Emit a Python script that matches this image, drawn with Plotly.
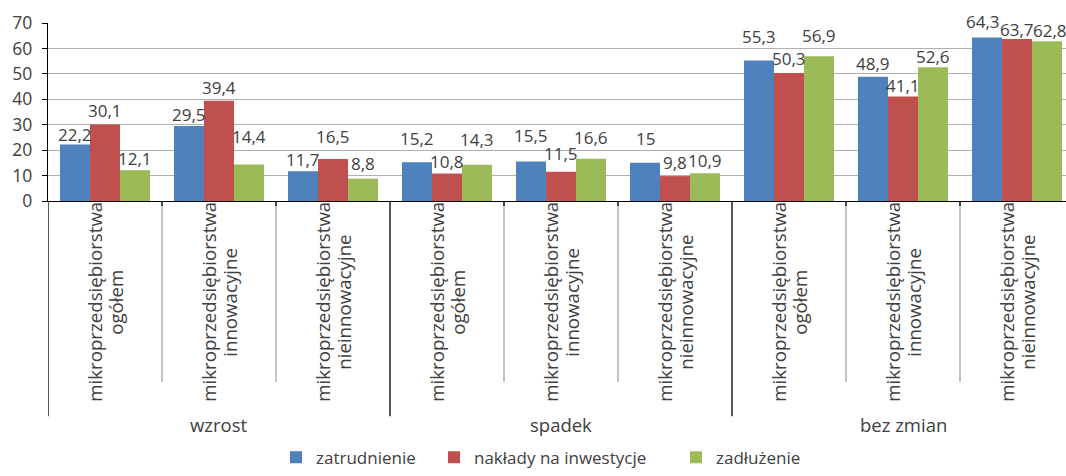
import plotly.graph_objects as go

# --- data -------------------------------------------------------------
groups = ["wzrost", "spadek", "bez zmian"]
sub_head = "mikroprzedsiębiorstwa"
sub_kinds = ["ogółem", "innowacyjne", "nieinnowacyjne"]

series_names = ["zatrudnienie", "nakłady na inwestycje", "zadłużenie"]
zatrudnienie = [22.2, 29.5, 11.7, 15.2, 15.5, 15, 55.3, 48.9, 64.3]
naklady = [30.1, 39.4, 16.5, 10.8, 11.5, 9.8, 50.3, 41.1, 63.7]
zadluzenie = [12.1, 14.4, 8.8, 14.3, 16.6, 10.9, 56.9, 52.6, 62.8]

y_ticks = [0, 10, 20, 30, 40, 50, 60, 70]

# --- styling ----------------------------------------------------------
colors = ["#4F81BD", "#C0504D", "#9BBB59"]
# extra lift (px) of individual value labels above their bars
label_lift = [
    [1, 2, 2, 14, 17, 15, 14, 3.5, 6],
    [4.5, 4, 13, 3, 9, 3.7, 5.5, 1, 0],
    [2.7, 18.5, 6, 16, 12, 3, 11, 1.3, 1.6],
]
# horizontal nudges (px) for crowded value labels: (series, category) -> px
label_nudge = {(0, 8): -4, (2, 8): 3}
FONT = "Open Sans"
TXT = "#404040"

W, H = 1066, 476
LEFT, TOP, BASE = 48, 23, 204          # plot left, plot top, x-axis line (px)
GROUP_PX = 114                          # width of one category slot (px)
PLOT_H = BASE - TOP
BARGAP = 24 / GROUP_PX


def py(px):
    """Convert a pixel row to paper y."""
    return (BASE - px) / PLOT_H


def px_x(px):
    return (px - LEFT) / (W - LEFT)


def fmt(v):
    return f"{v:g}".replace(".", ",")


n_cat = len(groups) * len(sub_kinds)
xs = list(range(n_cat))
series = [zatrudnienie, naklady, zadluzenie]

fig = go.Figure()
legend_ids = ["legend", "legend2", "legend3"]
for name, vals, col, leg in zip(series_names, series, colors, legend_ids):
    fig.add_trace(go.Bar(
        x=xs, y=vals, name=name, marker=dict(color=col, line=dict(width=0)),
        legend=leg,
    ))

annotations = []
bar_w = (1 - BARGAP) / len(series)
for j, vals in enumerate(series):
    off = (j - 1) * bar_w
    for i, v in enumerate(vals):
        annotations.append(dict(
            x=i + off, y=v, xref="x", yref="y", text=fmt(v), showarrow=False,
            xanchor="center", yanchor="bottom", yshift=label_lift[j][i] - 4,
            xshift=label_nudge.get((j, i), 0),
            font=dict(family=FONT, size=17, color=TXT),
        ))

# rotated category labels (two lines each)
for g in range(len(groups)):
    for s, kind in enumerate(sub_kinds):
        i = g * len(sub_kinds) + s
        for line, shift in ((sub_head, -10.5), (kind, 10.5)):
            annotations.append(dict(
                x=i, y=py(307), xref="x", yref="paper", text=line,
                showarrow=False, textangle=-90, xanchor="center",
                yanchor="middle", xshift=shift,
                font=dict(family=FONT, size=18.7, color=TXT),
            ))
    annotations.append(dict(
        x=g * len(sub_kinds) + 1, y=py(431), xref="x", yref="paper",
        text=groups[g], showarrow=False, xanchor="center", yanchor="middle",
        font=dict(family=FONT, size=18.5, color=TXT),
    ))

# category separators below the axis
shapes = []
for k in range(n_cat + 1):
    xb = k - 0.5
    if k % len(sub_kinds) == 0:
        shapes.append(dict(type="line", xref="x", yref="paper", x0=xb, x1=xb,
                           y0=py(BASE), y1=py(423),
                           line=dict(color="#000000", width=1.3)))
    else:
        shapes.append(dict(type="line", xref="x", yref="paper", x0=xb, x1=xb,
                           y0=py(BASE), y1=py(388),
                           line=dict(color="#A6A6A6", width=1.3)))
        shapes.append(dict(type="line", xref="x", yref="paper", x0=xb, x1=xb,
                           y0=py(BASE), y1=py(BASE + 5),
                           line=dict(color="#000000", width=1.3)))

legend_style = dict(orientation="h", yanchor="middle", y=py(465),
                    xanchor="left", font=dict(family=FONT, size=17, color=TXT),
                    bgcolor="rgba(0,0,0,0)", borderwidth=0)

fig.update_layout(
    width=W, height=H,
    margin=dict(l=LEFT, r=0, t=TOP, b=H - BASE, pad=0),
    plot_bgcolor="white", paper_bgcolor="white",
    barmode="group", bargap=BARGAP, bargroupgap=0,
    font=dict(family=FONT, color=TXT),
    xaxis=dict(range=[-0.5, -0.5 + (W - LEFT) / GROUP_PX], showticklabels=False,
               showgrid=False, zeroline=False, showline=True,
               linecolor="#000000", linewidth=1.3, ticks=""),
    yaxis=dict(range=[0, 70], tickvals=y_ticks, showgrid=True,
               gridcolor="#B0B0B0", gridwidth=1.3, zeroline=False,
               showline=True, linecolor="#000000", linewidth=1.3,
               ticks="outside", ticklen=5, tickcolor="#000000", tickwidth=1.3,
               ticklabelstandoff=6,
               tickfont=dict(family=FONT, size=17.5, color=TXT)),
    annotations=annotations,
    shapes=shapes,
    legend=dict(legend_style, x=px_x(276)),
    legend2=dict(legend_style, x=px_x(434)),
    legend3=dict(legend_style, x=px_x(676)),
    showlegend=True,
)

fig.write_html("out.html")
